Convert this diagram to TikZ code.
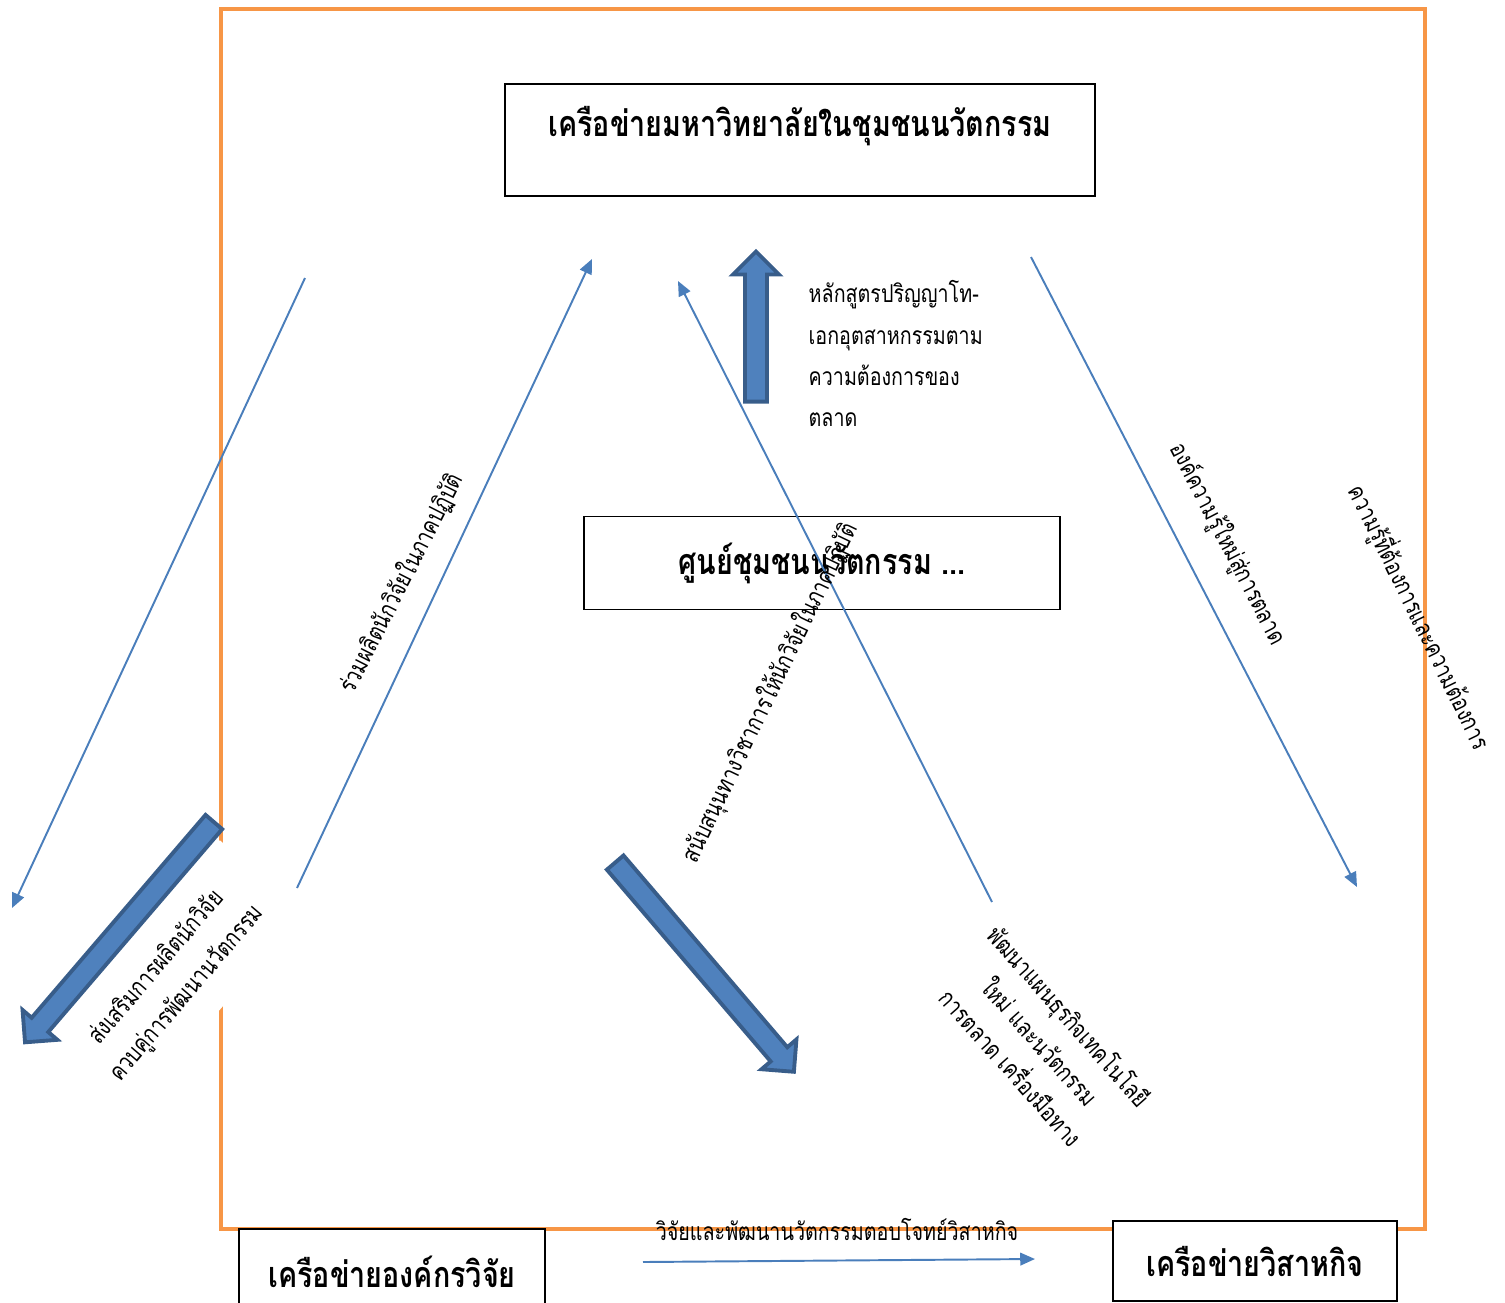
\documentclass[tikz,border=0pt]{standalone}
\usepackage{fontspec}
\usepackage{xcolor}
\usepackage{tikz}
\usetikzlibrary{arrows.meta, positioning, shapes.arrows}
\newfontfamily\thaifont[Script=Thai, FakeStretch=0.8]{Loma}
\definecolor{frameorange}{HTML}{F79646}
\definecolor{linkblue}{HTML}{4A7EBB}
\definecolor{bigfill}{HTML}{4F81BD}
\definecolor{bigdraw}{HTML}{385D8A}
\tikzset{
    netbox/.style={
        rectangle,
        draw=black,
        fill=white,
        line width=0.5pt,
        inner sep=0pt,
        align=center,
        font=\thaifont\bfseries\fontsize{10.2}{12}\selectfont
    },
    flowtext/.style={
        inner sep=0pt,
        align=center,
        font=\thaifont\fontsize{7}{11.3}\selectfont
    },
    link/.style={
        -{Triangle[length=4.2pt, width=3.6pt]},
        line width=0.55pt,
        draw=linkblue
    },
    bigarrow/.style={
        single arrow,
        draw=bigdraw,
        fill=bigfill,
        line width=1.1pt,
        inner sep=0pt,
        inner ysep=0.09cm,
        single arrow head extend=0.12cm
    }
}

\begin{document}
\begin{tikzpicture}[x=0.01cm, y=-0.01cm]
    \useasboundingbox (0,0) rectangle (1505,1302);
    \draw[frameorange, line width=1.15pt] (221,9) rectangle (1425,1229);

    % boxes
    \node[netbox, minimum width=5.9cm, minimum height=1.12cm, text height=0.3cm, text depth=0.38cm] (uninet) at (800,140) {เครือข่ายมหาวิทยาลัยในชุมชนนวัตกรรม};
    \node[netbox, minimum width=4.75cm, minimum height=0.93cm] (center) at (822,563) {ศูนย์ชุมชนนวัตกรรม ...};
    \node[netbox, minimum width=3.06cm, minimum height=0.86cm] (resnet) at (392,1272) {เครือข่ายองค์กรวิจัย};
    \node[netbox, minimum width=2.84cm, minimum height=0.8cm] (biznet) at (1255,1261) {เครือข่ายวิสาหกิจ};

    % thin links
    \coordinate (uniDownA) at (305,278);
    \coordinate (uniDownB) at (12,908);
    \coordinate (resUpA) at (297,888);
    \coordinate (resUpB) at (592,259);
    \coordinate (bizUpA) at (992,902);
    \coordinate (bizUpB) at (678,281);
    \coordinate (uniBizA) at (1031,257);
    \coordinate (uniBizB) at (1357,887);
    \coordinate (resBizA) at (643,1262);
    \coordinate (resBizB) at (1035,1259);
    \draw[link] (uniDownA) -- (uniDownB);
    \draw[link] (resUpA) -- (resUpB);
    \draw[link] (bizUpA) -- (bizUpB);
    \draw[link] (uniBizA) -- (uniBizB);
    \draw[link] (resBizA) -- (resBizB);

    % labels
    \node[flowtext, align=left, anchor=north west, font=\thaifont\fontsize{7}{11.7}\selectfont] (course) at (808,280) {หลักสูตรปริญญาโท-\\เอกอุตสาหกรรมตาม\\ความต้องการของ\\ตลาด};
    \node[flowtext, rotate=63] (coprod) at (401,583) {ร่วมผลิตนักวิจัยในภาคปฏิบัติ};
    \node[flowtext, rotate=64.3] (support) at (770,693) {สนับสนุนทางวิชาการให้นักวิจัยในภาคปฏิบัติ};
    \node[flowtext, rotate=-62.6] (newknow) at (1228,544) {องค์ความรู้ใหม่สู่การตลาด};
    \node[flowtext, rotate=-64.1] (needs) at (1420,617) {ความรู้ที่ต้องการและความต้องการ};
    \node[flowtext, rotate=-48.5, font=\thaifont\fontsize{7}{11}\selectfont] (bizplan) at (1041,1041) {พัฒนาแผนธุรกิจเทคโนโลยี\\ใหม่ และนวัตกรรม\\การตลาด เครื่องมือทาง};
    \node[flowtext] (rdbiz) at (837,1229) {วิจัยและพัฒนานวัตกรรมตอบโจทย์วิสาหกิจ};
    \node[flowtext, rotate=49.5, fill=white, minimum width=2.76cm, minimum height=1.1cm] (promote) at (172,981) {ส่งเสริมการผลิตนักวิจัย\\ควบคู่การพัฒนานวัตกรรม};

    % block arrows
    \node[bigarrow, rotate=90, minimum height=1.5cm] (upflow) at (756,332) {};
    \node[bigarrow, rotate=229.4, minimum height=2.9cm] (leftflow) at (123,928) {};
    \node[bigarrow, rotate=-49.5, minimum height=2.75cm] (rightflow) at (701,963) {};
\end{tikzpicture}
\end{document}
